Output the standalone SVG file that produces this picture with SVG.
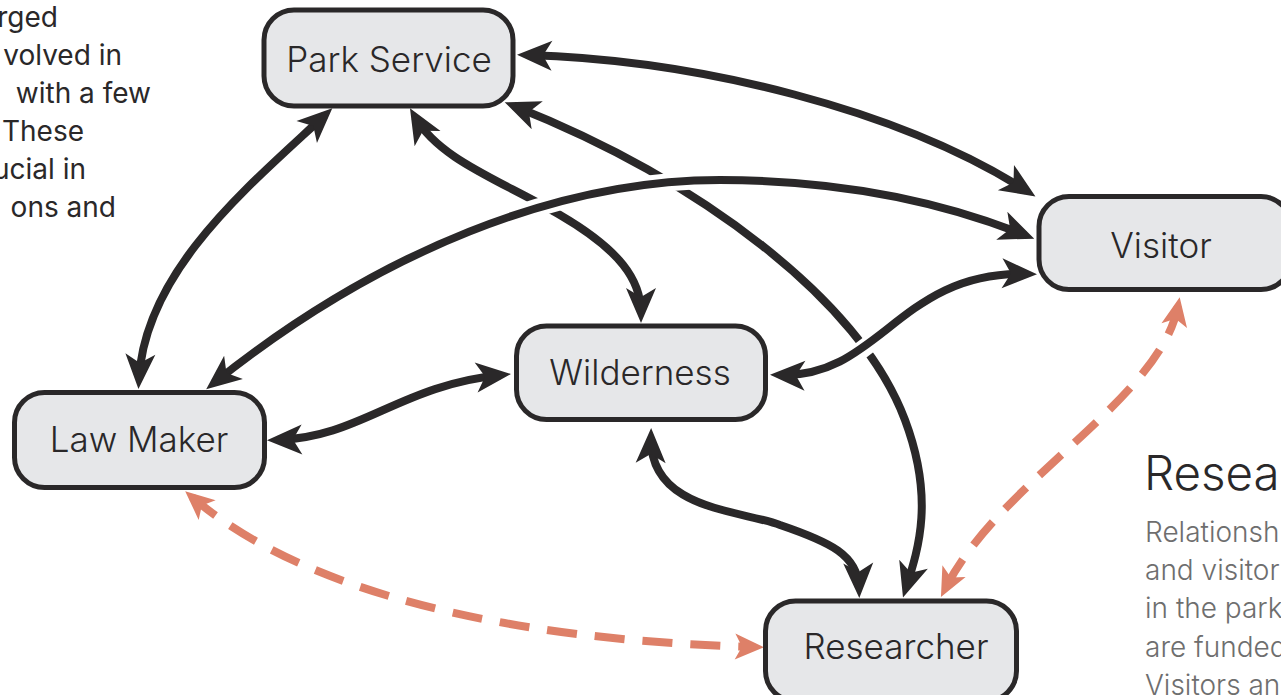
<svg xmlns="http://www.w3.org/2000/svg" width="1281" height="695" viewBox="0 0 1281 695">
<defs>
<style>
.node rect{fill:#e6e7e9;stroke:#2a2829;stroke-width:5}
.node text{font-family:Inter,Roboto,"Liberation Sans",sans-serif;font-size:35px;font-weight:300;fill:#2a2829;text-anchor:middle}
.ln{fill:none;stroke:#2a2829;stroke-width:8;marker-start:url(#ah);marker-end:url(#ah)}
.halo{fill:none;stroke:#ffffff;stroke-width:18}
.dash{fill:none;stroke:#de8068;stroke-width:8;stroke-dasharray:30 18;marker-start:url(#ahs);marker-end:url(#ahs)}
.side{font-family:Inter,Roboto,"Liberation Sans",sans-serif;font-size:28px;font-weight:400;fill:#2a2829}
.para{font-family:Inter,Roboto,"Liberation Sans",sans-serif;font-size:28px;font-weight:300;fill:#6e6e6e}
.head{font-family:Inter,Roboto,"Liberation Sans",sans-serif;font-size:47.5px;font-weight:300;fill:#2a2829}
</style>
<marker id="ah" viewBox="-30 -18 42 36" markerWidth="42" markerHeight="36" refX="0" refY="0" orient="auto-start-reverse" markerUnits="userSpaceOnUse">
<path d="M10,0 L-25,-15 L-16,0 L-25,15 Z" fill="#2a2829"/>
</marker>
<marker id="ahs" viewBox="-30 -18 42 36" markerWidth="42" markerHeight="36" refX="0" refY="0" orient="auto-start-reverse" markerUnits="userSpaceOnUse">
<path d="M9,0 L-20,-13 L-13,0 L-20,13 Z" fill="#de8068"/>
</marker>
</defs>
<rect width="1281" height="695" fill="#ffffff"/>
<g id="side-text">
<text class="side" x="58" y="27" text-anchor="end">rged</text>
<text class="side" x="122" y="65" text-anchor="end">volved in</text>
<text class="side" x="151" y="103" text-anchor="end">with a few</text>
<text class="side" x="84" y="141" text-anchor="end">These</text>
<text class="side" x="86" y="179" text-anchor="end">ucial in</text>
<text class="side" x="116" y="217" text-anchor="end">ons and</text>
</g>
<g id="research-text">
<text class="head" x="1144" y="490">Resea</text>
<text class="para" x="1145" y="542">Relationsh</text>
<text class="para" x="1145" y="580">and visitor</text>
<text class="para" x="1145" y="618">in the park</text>
<text class="para" x="1145" y="657">are funded</text>
<text class="para" x="1145" y="695">Visitors an</text>
</g>
<g id="connectors">
<path class="ln" d="M325,115 C250,185 145,270 139,379"/>
<path class="ln" d="M527,55 C700,60 900,110 1027,191"/>
<path class="ln" d="M415,117 C440,160 500,180 560,215 C620,250 641,280 641,313"/>
<path class="ln" d="M514,106 C700,180 860,300 905,420 C935,500 918,550 906,588"/>
<path class="ln" d="M277,440 C360,438 400,385 501,375"/>
<path class="ln" d="M651,438 C650,510 740,510 780,525 C830,542 858,555 859,588"/>
<path class="halo" d="M790,375 C880,378 900,270 1017,274"/>
<path class="ln" d="M780,375 C880,378 900,270 1027,274"/>
<path class="halo" d="M225,374 C380,250 560,180 720,180 C850,180 950,205 1015,231"/>
<path class="ln" d="M214,383 C380,250 560,180 720,180 C850,180 950,205 1025,235"/>
<path class="dash" d="M192,497 C300,590 500,640 755,647"/>
<path class="dash" d="M1178,306 C1160,400 1000,480 945,589"/>
</g>
<g id="park-service" class="node">
<rect x="264" y="10" width="249" height="96" rx="30"/>
<text x="389" y="72">Park Service</text>
</g>
<g id="visitor" class="node">
<rect x="1039" y="196.5" width="252" height="93" rx="30"/>
<text x="1161" y="258">Visitor</text>
</g>
<g id="wilderness" class="node">
<rect x="516.5" y="326" width="249" height="93.5" rx="30"/>
<text x="640" y="385">Wilderness</text>
</g>
<g id="law-maker" class="node">
<rect x="14.5" y="392.5" width="250" height="95" rx="30"/>
<text x="139" y="452">Law Maker</text>
</g>
<g id="researcher" class="node">
<rect x="765.5" y="601" width="251" height="100" rx="30"/>
<text x="896" y="659">Researcher</text>
</g>
</svg>
